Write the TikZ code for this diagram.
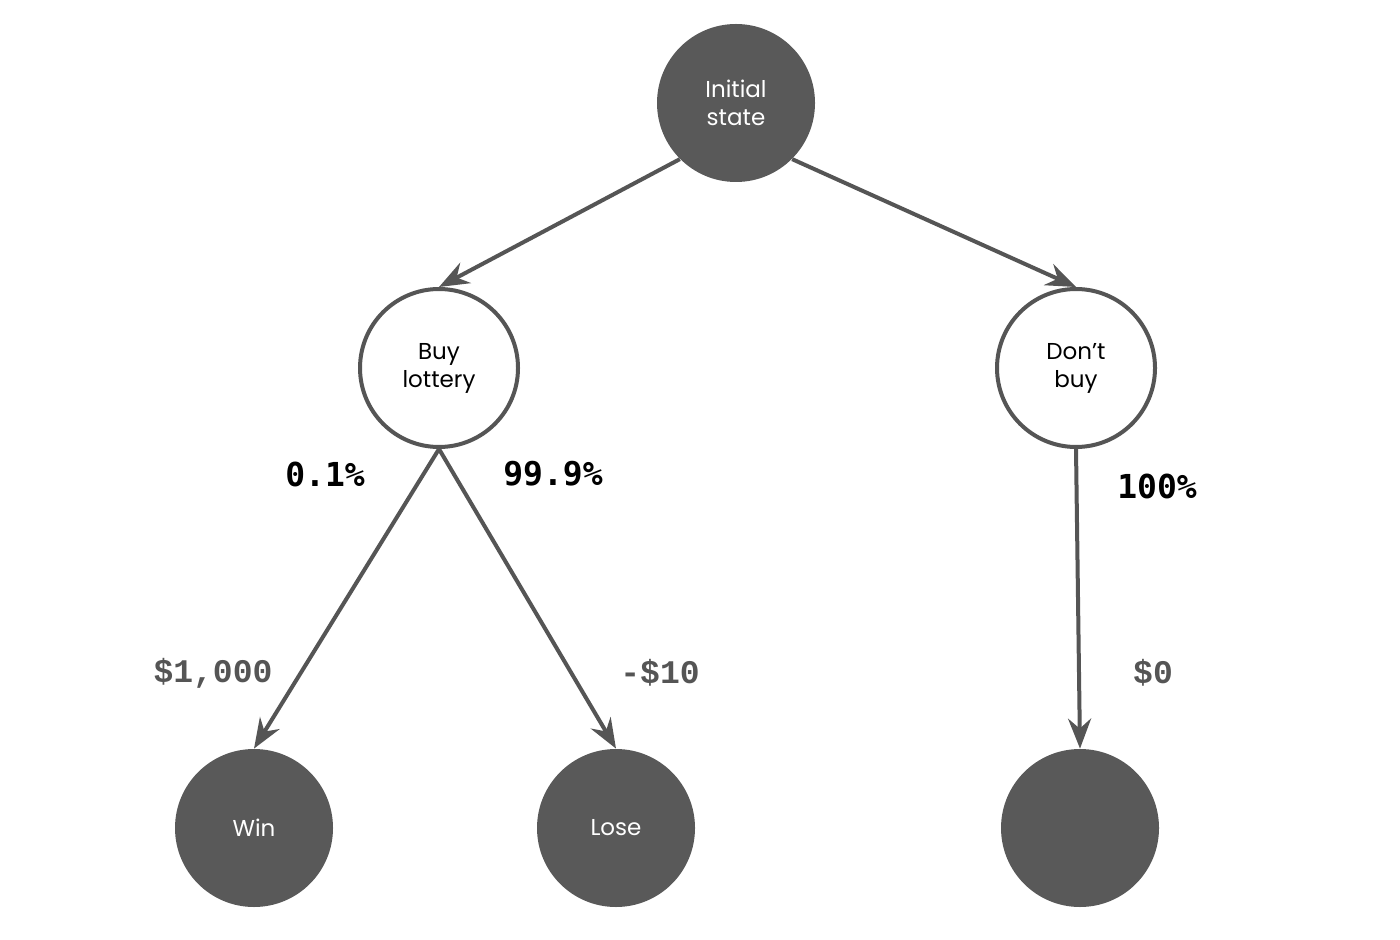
\documentclass[tikz,border=0pt]{standalone}
\usepackage{fontspec}
\setmainfont{Poppins}
\newfontfamily\pctfont{DejaVu Sans Mono}
\newfontfamily\valfont{Liberation Mono}
\usetikzlibrary{arrows.meta}
\definecolor{dark}{HTML}{595959}
\definecolor{edge}{HTML}{555555}
\begin{document}
\begin{tikzpicture}[x=0.5pt,y=-0.5pt,
  state/.style={circle,inner sep=0pt,minimum size=79pt,font=\fontsize{11.5}{14}\selectfont,align=center},
  darkstate/.style={state,draw=none,fill=dark,text=white},
  lightstate/.style={state,line width=2pt,draw=edge,fill=white,text=black},
  conn/.style={draw=edge,line width=2pt,-{Stealth[length=15pt,width=11.5pt,inset=5pt]}},
  pct/.style={font=\pctfont\bfseries\fontsize{16.5}{18}\selectfont,text=black,inner sep=0pt},
  val/.style={font=\valfont\bfseries\fontsize{16.5}{18}\selectfont,text=edge,inner sep=0pt}]
\useasboundingbox[fill=white] (0,0) rectangle (1400,940);
\node[darkstate] (init) at (736,103) {Initial\\state};
\node[lightstate] (buy) at (439,368) {Buy\\lottery};
\node[lightstate] (dont) at (1076,368) {Don’t\\buy};
\node[darkstate] (win) at (254,828) {Win};
\node[darkstate] (lose) at (616,828) {Lose};
\node[darkstate] (zero) at (1080,828) {};
\draw[conn] (init.-135) -- (buy.north);
\draw[conn] (init.-45) -- (dont.north);
\draw[conn] (buy.south) -- (win.north);
\draw[conn] (buy.south) -- (lose.north);
\draw[conn] (dont.south) -- (zero.north);
\node[pct] (p1) at (325,474) {0.1\%};
\node[pct] (p2) at (553,474) {99.9\%};
\node[pct] (p3) at (1157,486) {100\%};
\node[val] (v1) at (213,673) {\$1,000};
\node[val] (v2) at (660,673) {-\$10};
\node[val] (v3) at (1153,673) {\$0};
\end{tikzpicture}
\end{document}
